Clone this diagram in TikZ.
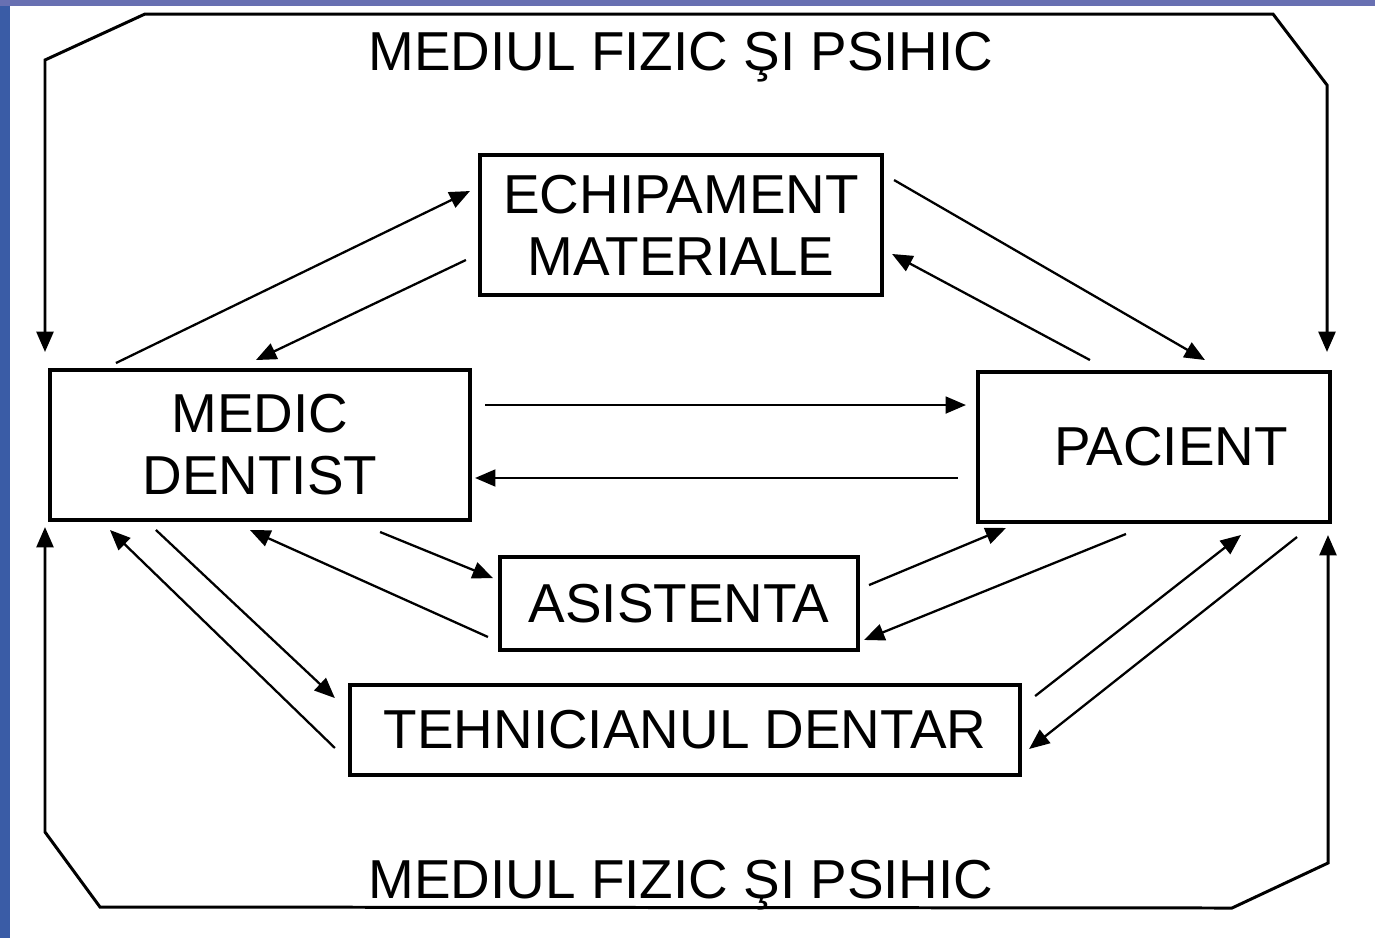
\documentclass[tikz,border=0pt]{standalone}
\usepackage{fontspec}
\setmainfont{Liberation Sans}
\usetikzlibrary{arrows.meta, calc}
\definecolor{slide blue}{RGB}{58,92,166}
\definecolor{slide top}{RGB}{104,112,178}
\tikzset{
  box/.style={draw, line width=1.1pt, align=center, inner sep=0pt,
    font=\fontsize{15.6}{17.6}\selectfont},
  flow/.style={->, line width=0.65pt},
  envline/.style={<->, line width=0.85pt, line join=miter},
  envtext/.style={anchor=base, font=\fontsize{15.6}{17.6}\selectfont}
}

\begin{document}
\begin{tikzpicture}[x=0.01cm, y=-0.01cm,
    >={Triangle[length=5.8pt,width=4.8pt]}]
    \useasboundingbox (0,0) rectangle (1375,938);
    % fondul
    \fill[slide blue] (0,0) rectangle (1375,938);
    \fill[slide top] (0,0) rectangle (1375,6);
    \fill[white] (10,6) rectangle (1375,938);

    \node[box, minimum width=4.2cm, minimum height=1.5cm] (medic) at (260,445) {MEDIC\\DENTIST};
    \node[box, minimum width=3.52cm, minimum height=1.5cm] (pacient) at (1154,447) {\hspace*{0.34cm}PACIENT};
    \node[box, minimum width=4.02cm, minimum height=1.4cm] (echip) at (681,225) {ECHIPAMENT\\MATERIALE};
    \node[box, minimum width=3.58cm, minimum height=0.93cm] (asist) at (679,603.5) {ASISTENTA};
    \node[box, minimum width=6.7cm, minimum height=0.9cm] (tehn) at (685,730) {TEHNICIANUL DENTAR};

    \node[envtext] (mediusus) at (681,70) {MEDIUL FIZIC ŞI PSIHIC};
    \node[envtext] (mediujos) at (681,898) {MEDIUL FIZIC ŞI PSIHIC};

    % capetele cadrului
    \coordinate (cadrustsus) at (45,352);
    \coordinate (cadrudrsus) at (1327,352);
    \coordinate (cadrustjos) at (45,527);
    \coordinate (cadrudrjos) at (1328,535);
    \draw[envline] (cadrustsus) -- (45,60) -- (145,14) -- (1273,14) -- (1327,85) -- (cadrudrsus);
    \draw[envline] (cadrustjos) -- (45,832) -- (100,907) -- (1232,908) -- (1328,863) -- (cadrudrjos);

    \draw[flow] ($(medic.north west)+(68,-5)$) to ($(echip.north west)+(-8,38)$);
    \draw[flow] ($(echip.south west)+(-12,-37)$) to ($(medic.north west)+(208,-8)$);
    \draw[flow] ($(echip.north east)+(10,27)$) to ($(pacient.north west)+(229,-10)$);
    \draw[flow] ($(pacient.north west)+(114,-10)$) to ($(echip.south east)+(8,-43)$);
    \draw[flow] ($(medic.north east)+(13,37)$) to ($(pacient.north west)+(-10,35)$);
    \draw[flow] ($(pacient.south west)+(-18,-46)$) to ($(medic.south east)+(3,-44)$);
    \draw[flow] ($(medic.south east)+(-92,10)$) to ($(asist.north west)+(-5,23)$);
    \draw[flow] ($(asist.south west)+(-10,-15)$) to ($(medic.south west)+(202,8)$);
    \draw[flow] ($(medic.south west)+(108,8)$) to ($(tehn.north west)+(-13,15)$);
    \draw[flow] ($(tehn.south west)+(-13,-29)$) to ($(medic.south west)+(62,8)$);
    \draw[flow] ($(asist.north east)+(9,30)$) to ($(pacient.south west)+(30,4)$);
    \draw[flow] ($(pacient.south west)+(150,10)$) to ($(asist.south east)+(4,-12)$);
    \draw[flow] ($(tehn.north east)+(13,13)$) to ($(pacient.south west)+(265,11)$);
    \draw[flow] ($(pacient.south east)+(-35,13)$) to ($(tehn.south east)+(7,-28)$);
\end{tikzpicture}
\end{document}
